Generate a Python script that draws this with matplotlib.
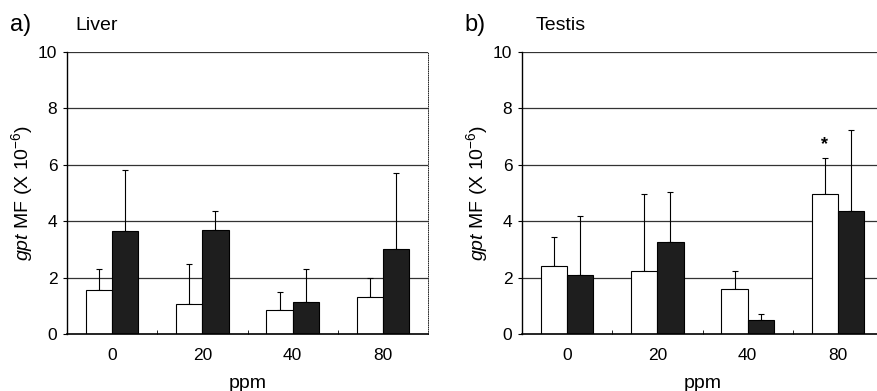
import numpy as np
import matplotlib
matplotlib.use("Agg")
import matplotlib.pyplot as plt

plt.rcParams['font.family'] = ['Liberation Sans', 'DejaVu Sans']
plt.rcParams['mathtext.fontset'] = 'custom'
plt.rcParams['mathtext.rm'] = 'Liberation Sans'
plt.rcParams['mathtext.it'] = 'Liberation Sans:italic'

doses = ['0', '20', '40', '80']

# liver
liver_white = [1.55, 1.05, 0.85, 1.3]
liver_white_err = [0.75, 1.45, 0.65, 0.7]
liver_black = [3.65, 3.7, 1.15, 3.0]
liver_black_err = [2.15, 0.65, 1.15, 2.7]

# testis
testis_white = [2.4, 2.25, 1.6, 4.95]
testis_white_err = [1.05, 2.7, 0.65, 1.3]
testis_black = [2.1, 3.25, 0.5, 4.35]
testis_black_err = [2.1, 1.8, 0.2, 2.9]
testis_star = [None, None, None, '*']


def draw_panel(ax, white, white_err, black, black_err, stars=None):
    x = np.arange(len(doses))
    w = 0.29
    for y in [2, 4, 6, 8, 10]:
        ax.axhline(y, color='#333333', lw=0.9, zorder=0)
    ax.bar(x - w / 2, white, w, color='white', edgecolor='black', lw=0.8, zorder=2)
    ax.bar(x + w / 2, black, w, color='#1e1e1e', edgecolor='black', lw=0.8, zorder=2)
    ax.errorbar(x - w / 2, white, yerr=[np.zeros(len(x)), white_err], fmt='none',
                ecolor='black', elinewidth=0.8, capsize=2.5, capthick=0.8, zorder=1)
    ax.errorbar(x + w / 2, black, yerr=[np.zeros(len(x)), black_err], fmt='none',
                ecolor='black', elinewidth=0.8, capsize=2.5, capthick=0.8, zorder=1)
    if stars:
        for i, s in enumerate(stars):
            if s:
                ax.text(x[i] - w / 2, white[i] + white_err[i] + 0.15, s,
                        ha='center', va='bottom', fontsize=13, fontweight='bold')
    ax.set_xlim(-0.5, 3.5)
    ax.set_ylim(0, 10)
    ax.set_yticks([0, 2, 4, 6, 8, 10])
    ax.set_xticks(x)
    ax.set_xticklabels(doses)
    ax.set_xticks(x[:-1] + 0.5, minor=True)
    ax.tick_params(axis='x', which='major', length=0, labelsize=12.5, pad=10)
    ax.tick_params(axis='x', which='minor', length=3, direction='in')
    ax.tick_params(axis='y', length=3, labelsize=12.5, pad=4)
    ax.spines['top'].set_visible(False)
    ax.spines['right'].set_linestyle(':')
    ax.spines['right'].set_linewidth(0.6)
    ax.spines['left'].set_linewidth(1.0)
    ax.spines['bottom'].set_linewidth(1.2)
    ax.set_xlabel('ppm', fontsize=14, labelpad=9)
    ax.set_ylabel(r'$\it{gpt}$ MF (X 10$^{-6}$)', fontsize=14, labelpad=2)


fig = plt.figure(figsize=(8.77, 3.91), dpi=100)
ax1 = fig.add_axes([67 / 877, 1 - 334 / 391, 361 / 877, 282 / 391])
ax2 = fig.add_axes([522 / 877, 1 - 334 / 391, 361 / 877, 282 / 391])

draw_panel(ax1, liver_white, liver_white_err, liver_black, liver_black_err)
draw_panel(ax2, testis_white, testis_white_err, testis_black, testis_black_err, testis_star)

fig.text(10 / 877, 1 - 25 / 391, 'a)', fontsize=17, va='center')
fig.text(75 / 877, 1 - 25 / 391, 'Liver', fontsize=14, va='center')
fig.text(464 / 877, 1 - 25 / 391, 'b)', fontsize=17, va='center')
fig.text(536 / 877, 1 - 25 / 391, 'Testis', fontsize=14, va='center')

fig.savefig('out.png', dpi=100)
